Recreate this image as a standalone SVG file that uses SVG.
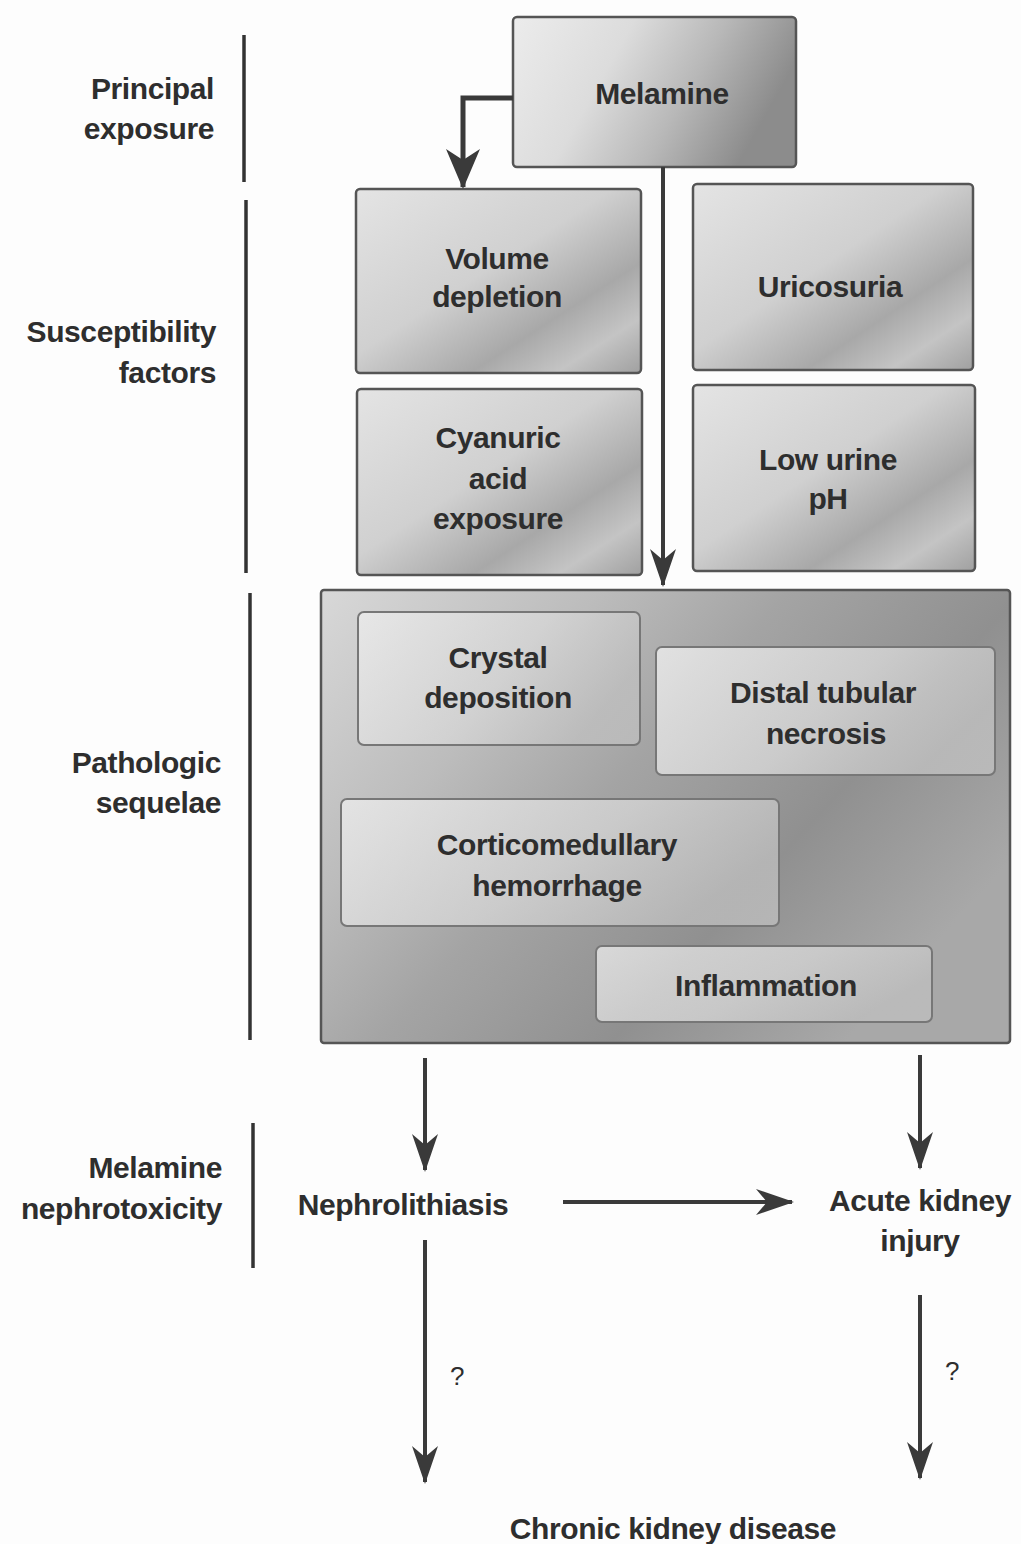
<svg xmlns="http://www.w3.org/2000/svg" width="1021" height="1544" viewBox="0 0 1021 1544">
<style>
text{font-family:"Liberation Sans",Arial,sans-serif;font-size:30px;font-weight:bold;fill:#2e2e2e;letter-spacing:-0.4px}
.c{text-anchor:middle}
.r{text-anchor:end}
.q{font-size:26px;font-weight:normal}
.box{stroke:#555;stroke-width:2.5}
.inner{stroke:#777;stroke-width:2}
.bar{stroke:#333;stroke-width:3.5}
.conn{fill:none;stroke:#3a3a3a;stroke-width:4;marker-end:url(#ah)}
.big{stroke-width:5;marker-end:url(#ahb)}
</style>
<defs>
<marker id="ah" viewBox="0 0 38 26" refX="36" refY="13" markerWidth="38" markerHeight="26" orient="auto" markerUnits="userSpaceOnUse">
<path d="M0,0 L38,13 L0,26 L11,13 z" fill="#3a3a3a"/>
</marker>
<marker id="ahb" viewBox="0 0 40 34" refX="38" refY="17" markerWidth="40" markerHeight="34" orient="auto" markerUnits="userSpaceOnUse">
<path d="M0,0 L40,17 L0,34 L11,17 z" fill="#3a3a3a"/>
</marker>
<linearGradient id="g1" x1="0" y1="0" x2="1" y2="0.3">
<stop offset="0" stop-color="#ececec"/><stop offset="0.4" stop-color="#dcdcdc"/><stop offset="0.7" stop-color="#b8b8b8"/><stop offset="1" stop-color="#8c8c8c"/>
</linearGradient>
<linearGradient id="g2" x1="0" y1="0" x2="1" y2="1">
<stop offset="0" stop-color="#e4e4e4"/><stop offset="0.45" stop-color="#d0d0d0"/><stop offset="0.7" stop-color="#a8a8a8"/><stop offset="0.85" stop-color="#c4c4c4"/><stop offset="1" stop-color="#a0a0a0"/>
</linearGradient>
<linearGradient id="g3" x1="0" y1="0" x2="1" y2="0.6">
<stop offset="0" stop-color="#d8d8d8"/><stop offset="0.3" stop-color="#bcbcbc"/><stop offset="0.5" stop-color="#a4a4a4"/><stop offset="0.75" stop-color="#909090"/><stop offset="1" stop-color="#a8a8a8"/>
</linearGradient>
<linearGradient id="g4" x1="0" y1="0" x2="1" y2="0.4">
<stop offset="0" stop-color="#eeeeee"/><stop offset="0.6" stop-color="#d8d8d8"/><stop offset="1" stop-color="#c0c0c0"/>
</linearGradient>
</defs>
<rect width="1021" height="1544" fill="#fdfdfd"/>

<g id="labels">
<line class="bar" x1="244" y1="35" x2="244" y2="182"/>
<text class="r" x="214" y="99">Principal</text>
<text class="r" x="214" y="139">exposure</text>
<line class="bar" x1="246" y1="200" x2="246" y2="573"/>
<text class="r" x="216" y="342">Susceptibility</text>
<text class="r" x="216" y="383">factors</text>
<line class="bar" x1="250" y1="593" x2="250" y2="1040"/>
<text class="r" x="221" y="773">Pathologic</text>
<text class="r" x="221" y="813">sequelae</text>
<line class="bar" x1="253" y1="1123" x2="253" y2="1268"/>
<text class="r" x="222" y="1178">Melamine</text>
<text class="r" x="222" y="1219">nephrotoxicity</text>
</g>

<g id="melamine">
<rect class="box" x="513" y="17" width="283" height="150" rx="4" fill="url(#g1)"/>
<text class="c" x="662" y="104">Melamine</text>
</g>

<g id="volume-depletion">
<rect class="box" x="356" y="189" width="285" height="184" rx="4" fill="url(#g2)"/>
<text class="c" x="497" y="269">Volume</text>
<text class="c" x="497" y="307">depletion</text>
</g>

<g id="uricosuria">
<rect class="box" x="693" y="184" width="280" height="186" rx="4" fill="url(#g2)"/>
<text class="c" x="830" y="297">Uricosuria</text>
</g>

<g id="cyanuric-acid">
<rect class="box" x="357" y="389" width="285" height="186" rx="4" fill="url(#g2)"/>
<text class="c" x="498" y="448">Cyanuric</text>
<text class="c" x="498" y="489">acid</text>
<text class="c" x="498" y="529">exposure</text>
</g>

<g id="low-urine-ph">
<rect class="box" x="693" y="385" width="282" height="186" rx="4" fill="url(#g2)"/>
<text class="c" x="828" y="470">Low urine</text>
<text class="c" x="828" y="509">pH</text>
</g>

<g id="pathologic-sequelae">
<rect class="box" x="321" y="590" width="689" height="453" rx="3" fill="url(#g3)"/>
</g>

<g id="crystal-deposition">
<rect class="inner" x="358" y="612" width="282" height="133" rx="6" fill="url(#g4)" fill-opacity="0.75"/>
<text class="c" x="498" y="668">Crystal</text>
<text class="c" x="498" y="708">deposition</text>
</g>

<g id="distal-tubular-necrosis">
<rect class="inner" x="656" y="647" width="339" height="128" rx="6" fill="url(#g4)" fill-opacity="0.8"/>
<text class="c" x="823" y="703">Distal tubular</text>
<text class="c" x="826" y="744">necrosis</text>
</g>

<g id="corticomedullary-hemorrhage">
<rect class="inner" x="341" y="799" width="438" height="127" rx="6" fill="url(#g4)" fill-opacity="0.75"/>
<text class="c" x="557" y="855">Corticomedullary</text>
<text class="c" x="557" y="896">hemorrhage</text>
</g>

<g id="inflammation">
<rect class="inner" x="596" y="946" width="336" height="76" rx="6" fill="url(#g4)" fill-opacity="0.75"/>
<text class="c" x="766" y="996">Inflammation</text>
</g>

<g id="nephrolithiasis">
<text class="c" x="403" y="1215">Nephrolithiasis</text>
</g>

<g id="acute-kidney-injury">
<text class="c" x="920" y="1211">Acute kidney</text>
<text class="c" x="920" y="1251">injury</text>
</g>

<g id="chronic-kidney-disease">
<text class="c" x="673" y="1539">Chronic kidney disease</text>
</g>

<g id="connectors">
<path class="conn big" d="M513,98 H463 V187"/>
<path class="conn" d="M663,167 V585"/>
<path class="conn" d="M425,1058 V1170"/>
<path class="conn" d="M920,1055 V1168"/>
<path class="conn" d="M563,1202 H792"/>
<path class="conn" d="M425,1240 V1482"/>
<path class="conn" d="M920,1295 V1478"/>
<text class="q" x="450" y="1385">?</text>
<text class="q" x="945" y="1380">?</text>
</g>
</svg>
